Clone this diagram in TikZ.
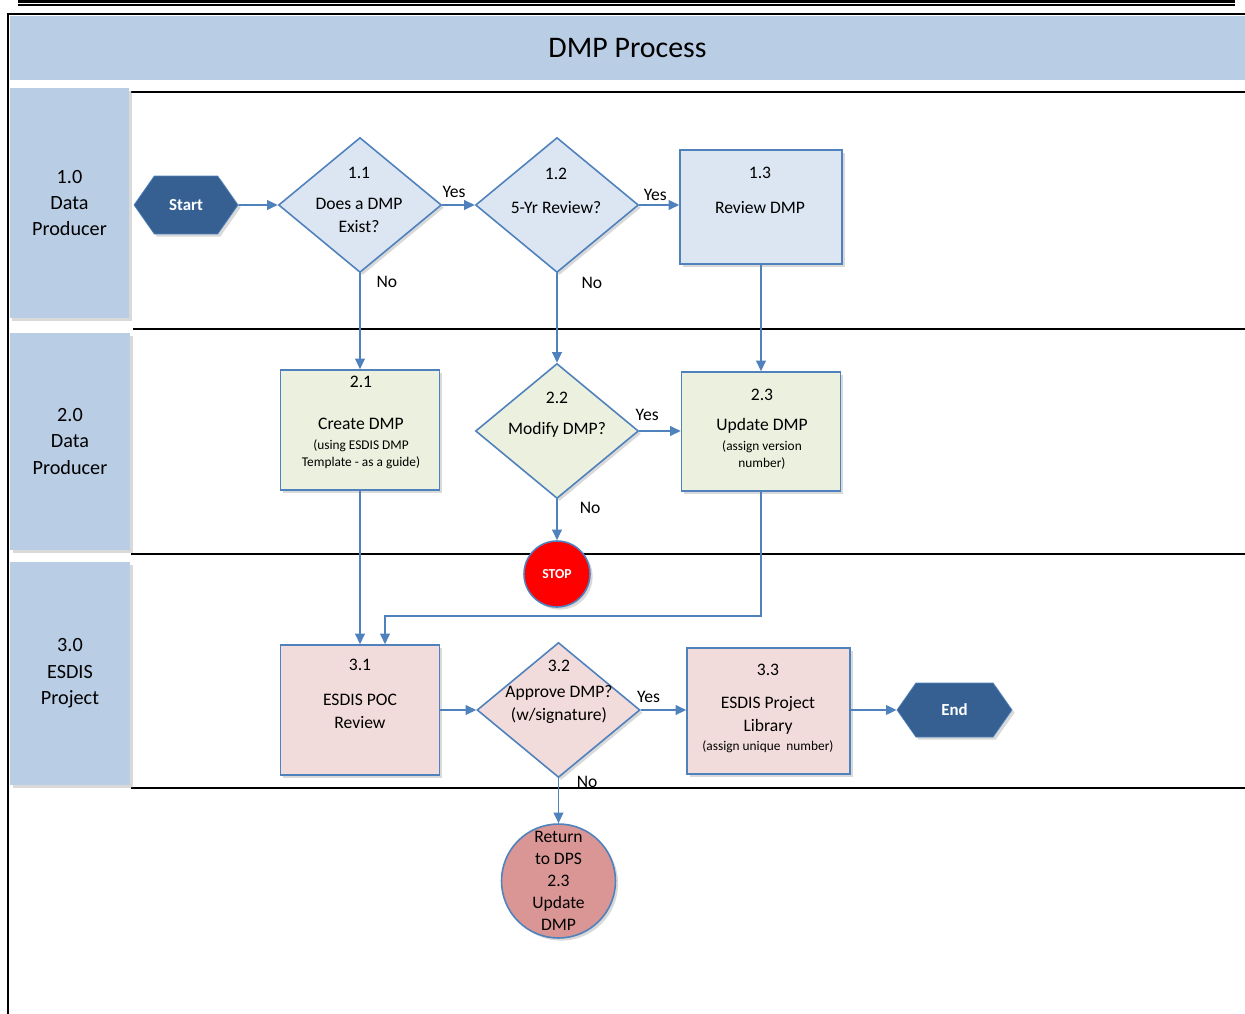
\documentclass[tikz,border=0pt]{standalone}
\usepackage{fontspec}
\setmainfont{Carlito}
\usetikzlibrary{arrows.meta,positioning,shapes.geometric,shapes.symbols,shadows,calc}
\definecolor{lanefill}{HTML}{B9CDE5}
\definecolor{edgeblue}{HTML}{4F81BD}
\definecolor{bluefill}{HTML}{DCE6F2}
\definecolor{greenfill}{HTML}{EBF1DE}
\definecolor{pinkfill}{HTML}{F2DCDB}
\definecolor{termblue}{HTML}{376092}
\definecolor{returnfill}{HTML}{D99694}
\tikzset{
  stepshadow/.style={drop shadow={opacity=0.3, shadow xshift=1.5pt, shadow yshift=-1.5pt}},
  titleband/.style={fill=lanefill, minimum width=24.7cm, minimum height=1.28cm,
    font=\fontsize{17}{20}\selectfont},
  lanebox/.style={fill=lanefill, align=center, font=\fontsize{11.5}{15}\selectfont,
    minimum width=2.4cm, stepshadow},
  stepbox/.style={draw=edgeblue, line width=0.9pt, inner sep=0pt, stepshadow},
  decision/.style={stepbox, diamond, minimum width=3.26cm, minimum height=2.7cm},
  steptext/.style={align=center, font=\fontsize{10}{13}\selectfont, inner sep=0pt},
  terminal/.style={draw=edgeblue, fill=termblue, text=white, signal, signal to=east and west,
    signal pointer angle=110, font=\bfseries\fontsize{9.6}{11}\selectfont, stepshadow},
  flowarrow/.style={draw=edgeblue, line width=0.9pt, -{Triangle[length=6pt, width=5.5pt]}},
  answer/.style={font=\fontsize{10}{12}\selectfont, inner sep=2pt},
  lanerule/.style={line width=1pt}
}
\newcommand{\smalltext}[1]{{\fontsize{7.6}{9.7}\selectfont #1}}

\begin{document}
\begin{tikzpicture}[x=0.02cm, y=-0.02cm]
  \useasboundingbox (0,0) rectangle (1245,1014);
  \draw[line width=2pt] (18,1.5) -- (1235,1.5);
  \draw[line width=0.6pt] (18,5) -- (1235,5);
  \draw[line width=1.2pt] (8,1014) -- (8,14) -- (1245,14);

  \node[titleband] (title) at (627.5,48) {DMP Process};

  \draw[lanerule] (131,92) -- (1245,92);
  \draw[lanerule] (133,329) -- (1245,329);
  \draw[lanerule] (131,554) -- (1245,554);
  \draw[lanerule] (131,788) -- (1245,788);

  \node[lanebox, minimum height=4.6cm] (lane1) at (69.5,203) {1.0\\Data\\Producer};
  \node[lanebox, minimum height=4.34cm] (lane2) at (70,441.5) {2.0\\Data\\Producer};
  \node[lanebox, minimum height=4.46cm] (lane3) at (70,673.5) {3.0\\ESDIS\\Project};

  % data producer lane
  \node[terminal, minimum width=2.08cm, minimum height=1.16cm] (start) at (186,205) {Start};
  \node[decision, fill=bluefill] (d11) at (360,205) {};
  \node[steptext] (d11txt) at (359,200) {1.1\\[4.5pt]Does a DMP\\Exist?};
  \node[decision, fill=bluefill] (d12) at (557,205) {};
  \node[steptext] (d12txt) at (556,191) {1.2\\[6pt]5-Yr Review?};
  \node[stepbox, fill=bluefill, minimum width=3.24cm, minimum height=2.28cm] (b13) at (761,207) {};
  \node[steptext] (b13txt) at (760,190.5) {1.3\\[7pt]Review DMP};

  \node[stepbox, fill=greenfill, minimum width=3.18cm, minimum height=2.4cm] (b21) at (360,430) {};
  \node[steptext] (b21txt) at (361,422.5) {2.1\\[11pt]Create DMP\\[-1.6pt]\smalltext{(using ESDIS DMP}\\[-3.3pt]\smalltext{Template - as a guide)}};
  \node[decision, fill=greenfill] (d22) at (557,431) {};
  \node[steptext] (d22txt) at (557,414.5) {2.2\\[4.5pt]Modify DMP?};
  \node[stepbox, fill=greenfill, minimum width=3.18cm, minimum height=2.38cm] (b23) at (761,431.5) {};
  \node[steptext] (b23txt) at (762,429.5) {2.3\\[4pt]Update DMP\\[-1.6pt]\smalltext{(assign version}\\[-3.3pt]\smalltext{number)}};
  \node[circle, draw=edgeblue, line width=0.9pt, fill=red, text=white, minimum size=1.32cm,
    font=\bfseries\fontsize{7.8}{9}\selectfont, stepshadow] (stop) at (557,574) {STOP};

  % ESDIS project lane
  \node[stepbox, fill=pinkfill, minimum width=3.18cm, minimum height=2.6cm] (b31) at (360,710) {};
  \node[steptext] (b31txt) at (360,693.5) {3.1\\[7pt]ESDIS POC\\Review};
  \node[decision, fill=pinkfill] (d32) at (558.5,710) {};
  \node[steptext] (d32txt) at (559,691.5) {3.2\\[2pt]Approve DMP?\\(w/signature)};
  \node[stepbox, fill=pinkfill, minimum width=3.26cm, minimum height=2.52cm] (b33) at (768.5,711) {};
  \node[steptext] (b33txt) at (768,708.5) {3.3\\[6pt]ESDIS Project\\Library\\[-2.2pt]\smalltext{(assign unique\ \ number)}};
  \node[terminal, minimum width=2.3cm, minimum height=1.08cm] (endn) at (954.5,710) {End};
  \node[circle, draw=edgeblue, line width=0.9pt, fill=returnfill, inner sep=0pt, minimum size=2.28cm,
    align=center, font=\fontsize{10}{12.5}\selectfont, stepshadow] (ret) at (558.5,881) {Return\\to DPS\\2.3\\Update\\DMP};

  \draw[flowarrow] (start) -- (d11);
  \draw[flowarrow] (d11) -- node[answer, pos=0.36, above=1.5pt] (yes1) {Yes} (d12);
  \draw[flowarrow] (d12) -- node[answer, pos=0.4, above=0pt] (yes2) {Yes} (d12 -| b13.west);
  \draw[flowarrow] (d11) -- node[answer, pos=0.09, right=7pt] (no1) {No} (b21);
  \draw[flowarrow] (d12) -- node[answer, pos=0.11, right=11.5pt] (no2) {No} (d22);
  \draw[flowarrow] (b13) -- (b13 |- b23.north);
  \draw[flowarrow] (d22) -- node[answer, pos=0.19, above=3.5pt] (yes3) {Yes} (d22 -| b23.west);
  \draw[flowarrow] (d22) -- node[answer, pos=0.21, right=10.5pt] (no3) {No} (stop);
  \draw[flowarrow] (b21) -- (b31);
  \coordinate (bend) at (385,616);
  \draw[flowarrow] (b23.south) |- (bend) -- (bend |- b31.north);
  \draw[flowarrow] (b31) -- (d32);
  \draw[flowarrow] (d32) -- node[answer, pos=0.17, above=2pt] (yes4) {Yes} (d32 -| b33.west);
  \draw[flowarrow] (b33.east |- endn) -- (endn);
  \draw[flowarrow] (d32) -- node[answer, pos=0.07, right=8pt] (no4) {No} (ret);
\end{tikzpicture}
\end{document}
